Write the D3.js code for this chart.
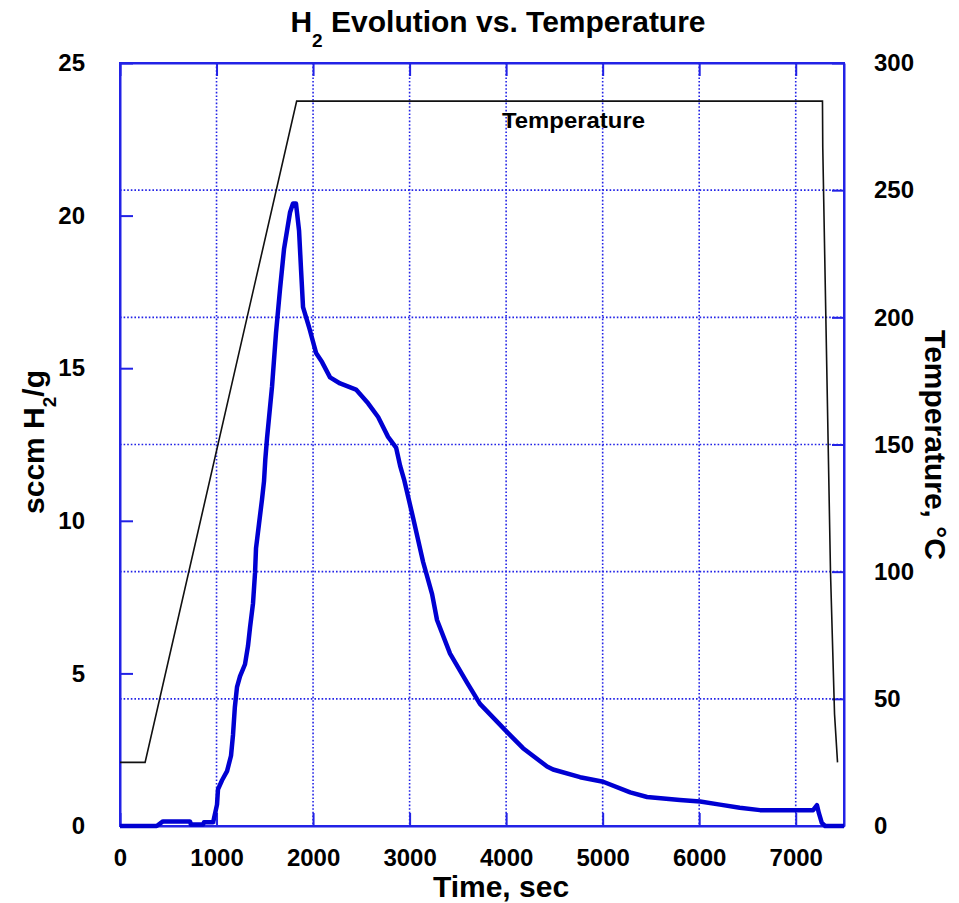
<!DOCTYPE html>
<html>
<head>
  <meta charset="utf-8">
  <title>H2 Evolution vs. Temperature</title>
  <style>
    body { margin: 0; background: #fff; }
    svg text { font-family: "Liberation Sans", Arial, sans-serif; font-weight: bold; fill: #000; }
  </style>
</head>
<body>
  <svg id="chart"></svg>

  <script src="https://d3js.org/d3.v7.min.js"></script>
  <script>
    // data
    const h2Time = [0, 380, 445, 725, 735, 860, 870, 965, 1005, 1015, 1057, 1109, 1150, 1171, 1190, 1212, 1243,
      1295, 1326, 1347, 1378, 1399, 1409, 1440, 1471, 1492, 1505, 1523, 1575, 1616, 1658, 1699, 1730, 1761,
      1792, 1823, 1855, 1876, 1896, 1958, 2031, 2093, 2176, 2280, 2445, 2570, 2674, 2777, 2860, 2902, 2943,
      3036, 3140, 3233, 3284, 3419, 3595, 3729, 3988, 4175, 4424, 4486, 4766, 5005, 5285, 5460, 5800, 6010,
      6215, 6420, 6630, 7180, 7220, 7240, 7270, 7305, 7500];
    const h2Values = [0, 0, 0.15, 0.15, 0.05, 0.05, 0.12, 0.12, 0.7, 1.2, 1.5, 1.8, 2.3, 3.0, 3.9, 4.55, 4.9,
      5.3, 5.9, 6.5, 7.3, 8.3, 9.1, 9.9, 10.7, 11.3, 12.0, 12.7, 14.4, 16.15, 17.6, 18.9, 19.5, 20.1,
      20.4, 20.4, 19.5, 18.2, 17.0, 16.35, 15.5, 15.2, 14.7, 14.5, 14.3, 13.85, 13.4, 12.75, 12.4, 11.8, 11.35,
      10.1, 8.65, 7.6, 6.75, 5.65, 4.7, 4.0, 3.15, 2.55, 1.95, 1.85, 1.6, 1.45, 1.1, 0.95, 0.85, 0.8,
      0.7, 0.6, 0.52, 0.52, 0.68, 0.42, 0.1, 0, 0];

    const tempTime = [0, 260, 1830, 7277, 7280, 7298, 7360, 7402, 7433];
    const tempValues = [25, 25, 285, 285, 267, 229, 100, 44, 25];

    const xTicks = [0, 1000, 2000, 3000, 4000, 5000, 6000, 7000];
    const leftTicks = [0, 5, 10, 15, 20, 25];
    const rightTicks = [0, 50, 100, 150, 200, 250, 300];

    const W = 959, H = 903;
    const margin = { top: 63, right: 115, bottom: 77, left: 120 };
    const blue = "#2222e6";

    const svg = d3.select("#chart").attr("width", W).attr("height", H);

    const x = d3.scaleLinear().domain([0, 7500]).range([margin.left, W - margin.right]);
    const yL = d3.scaleLinear().domain([0, 25]).range([H - margin.bottom, margin.top]);
    const yR = d3.scaleLinear().domain([0, 300]).range([H - margin.bottom, margin.top]);

    const x0 = x.range()[0], x1 = x.range()[1];
    const y0 = yL.range()[0], y1 = yL.range()[1];

    // dotted grid: vertical at time ticks, horizontal at temperature ticks
    const grid = svg.append("g")
      .attr("stroke", blue)
      .attr("stroke-width", 1.6)
      .attr("stroke-dasharray", "1.6,2");
    grid.selectAll(".gx").data(xTicks.slice(1))
      .enter().append("line")
      .attr("x1", d => x(d)).attr("x2", d => x(d))
      .attr("y1", y1).attr("y2", y0);
    grid.selectAll(".gy").data(rightTicks.slice(1, -1))
      .enter().append("line")
      .attr("x1", x0).attr("x2", x1)
      .attr("y1", d => yR(d)).attr("y2", d => yR(d));

    // axes (inward ticks)
    const axisStyle = g => {
      g.selectAll("path, line").attr("stroke", blue).attr("stroke-width", 2);
      g.selectAll("text")
        .style("font-family", "'Liberation Sans', Arial, sans-serif")
        .style("font-weight", "bold")
        .style("font-size", "24px")
        .attr("fill", "#000");
    };

    svg.append("g")
      .attr("transform", `translate(0,${y0})`)
      .call(d3.axisBottom(x).tickValues(xTicks).tickFormat(d3.format("d"))
        .tickSizeInner(-13).tickSizeOuter(0).tickPadding(23))
      .call(axisStyle)
      .call(g => g.selectAll("text").attr("dy", "0.71em"));

    svg.append("g")
      .attr("transform", `translate(0,${y1})`)
      .call(d3.axisTop(x).tickValues(xTicks).tickSizeInner(-13).tickSizeOuter(0).tickFormat(""))
      .call(axisStyle);

    svg.append("g")
      .attr("transform", `translate(${x0},0)`)
      .call(d3.axisLeft(yL).tickValues(leftTicks).tickSizeInner(-13).tickSizeOuter(0).tickPadding(35))
      .call(axisStyle);

    svg.append("g")
      .attr("transform", `translate(${x1},0)`)
      .call(d3.axisRight(yR).tickValues(rightTicks).tickSizeInner(-12).tickSizeOuter(0).tickPadding(30))
      .call(axisStyle);

    // frame
    svg.append("rect")
      .attr("x", x0).attr("y", y1)
      .attr("width", x1 - x0).attr("height", y0 - y1)
      .attr("fill", "none").attr("stroke", blue).attr("stroke-width", 2);

    // temperature line
    const tempLine = d3.line()
      .x((d, i) => x(tempTime[i]))
      .y(d => yR(d));
    svg.append("path")
      .datum(tempValues)
      .attr("d", tempLine)
      .attr("fill", "none")
      .attr("stroke", "#111")
      .attr("stroke-width", 1.6);

    // H2 line
    const h2Line = d3.line()
      .x((d, i) => x(h2Time[i]))
      .y(d => yL(d));
    svg.append("path")
      .datum(h2Values)
      .attr("d", h2Line)
      .attr("fill", "none")
      .attr("stroke", "#0000d2")
      .attr("stroke-width", 4.5)
      .attr("stroke-linejoin", "round");

    // in-plot label
    svg.append("text")
      .attr("x", 502).attr("y", 128)
      .attr("textLength", 143)
      .attr("lengthAdjust", "spacingAndGlyphs")
      .style("font-family", "'Liberation Sans Narrow', 'Liberation Sans', sans-serif")
      .style("font-size", "22px")
      .text("Temperature");

    // title
    const title = svg.append("text")
      .attr("x", 498).attr("y", 32)
      .attr("text-anchor", "middle")
      .style("font-size", "30px");
    title.append("tspan").text("H");
    title.append("tspan").attr("dy", 15).style("font-size", "19px").text("2");
    title.append("tspan").attr("dy", -15).text(" Evolution vs. Temperature");

    // x label
    svg.append("text")
      .attr("x", 501).attr("y", 897)
      .attr("text-anchor", "middle")
      .style("font-size", "30px")
      .text("Time, sec");

    // left label
    const yLab = svg.append("text")
      .attr("transform", "translate(44,442) rotate(-90)")
      .attr("text-anchor", "middle")
      .style("font-size", "30px");
    yLab.append("tspan").text("sccm H");
    yLab.append("tspan").attr("dy", 12).style("font-size", "19px").text("2");
    yLab.append("tspan").attr("dy", -12).text("/g");

    // right label
    svg.append("text")
      .attr("transform", "translate(925,445) rotate(90)")
      .attr("text-anchor", "middle")
      .style("font-size", "30px")
      .text("Temperature, °C");
  </script>
</body>
</html>
